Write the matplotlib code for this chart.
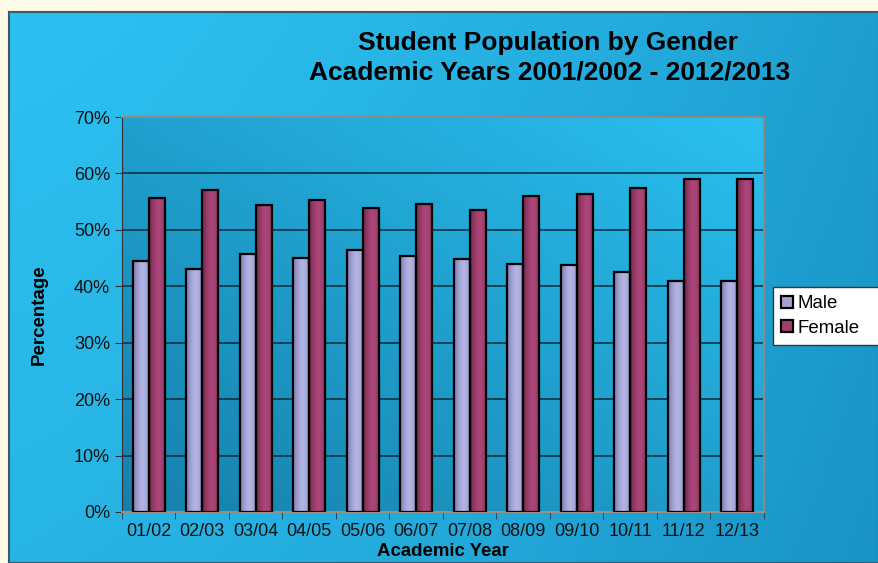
import matplotlib.pyplot as plt
import matplotlib
import numpy as np

matplotlib.rcParams['font.family'] = ['Liberation Sans', 'DejaVu Sans']

years = ['01/02', '02/03', '03/04', '04/05', '05/06', '06/07',
         '07/08', '08/09', '09/10', '10/11', '11/12', '12/13']
male = [44.5, 43.0, 45.8, 45.0, 46.4, 45.4, 44.8, 44.0, 43.8, 42.6, 41.0, 41.0]
female = [55.6, 57.1, 54.4, 55.3, 53.8, 54.6, 53.5, 56.0, 56.4, 57.4, 59.1, 59.1]

fig = plt.figure(figsize=(8.79, 5.63), dpi=100)
fig.patch.set_facecolor('#FFF9E8')

# blue panel behind everything
bg = fig.add_axes([9 / 879, 0, 1 - 9 / 879, 551 / 563], zorder=0)
gx = np.linspace(0, 1, 200)
gy = np.linspace(0, 1, 100)
X, Y = np.meshgrid(gx, gy)
t = np.clip(0.6 * X ** 1.5 + 0.2 * Y, 0, 1)
c1 = np.array([0x2c, 0xc0, 0xf0]) / 255
c2 = np.array([0x14, 0x88, 0xba]) / 255
img = c1 * (1 - t[..., None]) + c2 * t[..., None]
bg.imshow(img, extent=[0, 1, 0, 1], aspect='auto', origin='upper')
bg.set_xlim(0, 1)
bg.set_ylim(0, 1)
bg.set_xticks([])
bg.set_yticks([])
for s in bg.spines.values():
    s.set_color('#3a5a6a')
    s.set_linewidth(1.5)

ax = fig.add_axes([122 / 879, 51 / 563, 642 / 879, 395 / 563], zorder=1)
ax.set_facecolor('none')
# plot area gradient: darker bottom-left, lighter top-right
t2 = np.clip(0.5 * (1 - X) + 0.5 * Y, 0, 1)
p1 = np.array([0x2a, 0xc0, 0xf0]) / 255
p2 = np.array([0x16, 0x80, 0xac]) / 255
img2 = p1 * (1 - t2[..., None]) + p2 * t2[..., None]
ax.imshow(img2, extent=[-0.5, len(years) - 0.5, 0, 70], aspect='auto',
          origin='upper', zorder=0)

x = np.arange(len(years))
w = 0.3
bars_m = ax.bar(x - w / 2, male, width=w, color='#A3A3D6', edgecolor='black',
                linewidth=1.6, label='Male', zorder=3)
bars_f = ax.bar(x + w / 2, female, width=w, color='#A1406E', edgecolor='black',
                linewidth=1.6, label='Female', zorder=3)

# cylinder-like shading on the bars
def shade(bars, dark, light):
    dark = np.array(dark) / 255
    light = np.array(light) / 255
    s = np.linspace(-1, 1, 64)
    k = np.clip(1 - np.abs(s - 0.15) ** 1.6, 0, 1)
    row = dark * (1 - k[:, None]) + light * k[:, None]
    grad = row[None, :, :]
    for b in bars:
        x0, y0 = b.get_x(), b.get_y()
        im = ax.imshow(grad, extent=[x0, x0 + b.get_width(), y0, y0 + b.get_height()],
                       aspect='auto', zorder=3.5, interpolation='bilinear')
        im.set_clip_path(b)
        b.set_facecolor('none')
        b.set_zorder(4)

shade(bars_m, (0x84, 0x84, 0xbc), (0xb4, 0xb4, 0xe2))
shade(bars_f, (0x7c, 0x2c, 0x56), (0xac, 0x46, 0x78))

ax.set_xlim(-0.5, len(years) - 0.5)
ax.set_ylim(0, 70)
ax.set_yticks(range(0, 71, 10))
ax.set_yticklabels([f'{v}%' for v in range(0, 71, 10)])
ax.yaxis.grid(True, color='#0b2a3a', linewidth=1.1, zorder=1)
ax.set_axisbelow(True)

ax.set_xticks(x)
ax.set_xticklabels(years)
ax.set_xticks(np.arange(-0.5, len(years)), minor=True)
ax.tick_params(axis='x', which='major', length=0, pad=8, labelsize=13, colors='#111111')
ax.tick_params(axis='x', which='minor', length=5, color='#333333')
ax.tick_params(axis='y', length=5, labelsize=13, color='#333333', labelcolor='#111111')

for s in ['top', 'right']:
    ax.spines[s].set_color('#8a8a8a')
    ax.spines[s].set_linewidth(1.5)
ax.spines['left'].set_color('#333333')
ax.spines['bottom'].set_color('#9a8f80')
ax.spines['bottom'].set_linewidth(1.5)

ax.set_xlabel('Academic Year', fontsize=13.4, fontweight='bold', labelpad=2)
ax.set_ylabel('Percentage', fontsize=13.5, fontweight='bold', labelpad=19)

fig.text(548 / 879, 1 - 43 / 563, 'Student Population by Gender', ha='center',
         va='center', fontsize=19, fontweight='bold')
fig.text(550 / 879, 1 - 73 / 563, 'Academic Years 2001/2002 - 2012/2013',
         ha='center', va='center', fontsize=19, fontweight='bold')

leg = ax.legend(loc='upper left', bbox_to_anchor=(773 / 879, 1 - 287 / 563, 130 / 879, 0),
                bbox_transform=fig.transFigure, frameon=True, fancybox=False,
                mode='expand', fontsize=13.4, handlelength=0.6, handleheight=0.6,
                handletextpad=0.25, borderpad=0.45, labelspacing=0.4,
                borderaxespad=0)
leg.get_frame().set_edgecolor('#333333')
leg.get_frame().set_facecolor('white')
leg.get_frame().set_alpha(1)
for h, col in zip(leg.legend_handles, ['#A3A3D6', '#A1406E']):
    h.set_facecolor(col)
    h.set_edgecolor('black')
    h.set_linewidth(1.6)

fig.savefig('out.png', dpi=100, facecolor=fig.get_facecolor())
